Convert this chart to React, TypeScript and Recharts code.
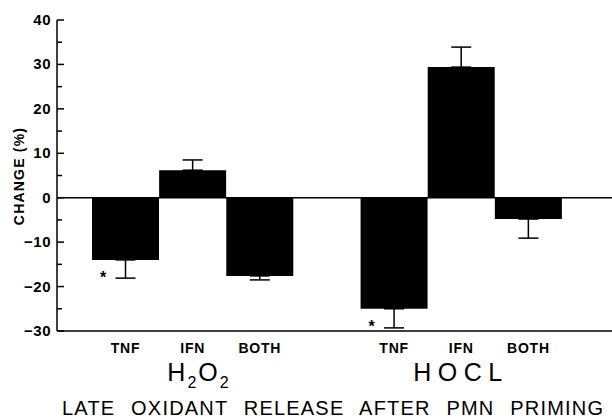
import { BarChart, Bar, XAxis, YAxis, ErrorBar, ReferenceLine, LabelList } from "recharts";

const categories = ["TNF", "IFN", "BOTH", "", "TNF", "IFN", "BOTH"];
const changes = [-14, 6.2, -17.6, null, -25, 29.4, -4.8];
const errorDown = [4.1, 0, 0.9, null, 4.3, 0, 4.3];
const errorUp = [0, 2.3, 0, null, 0, 4.5, 0];
const significant = [true, false, false, false, true, false, false];
const yTicks = [-30, -25, -20, -15, -10, -5, 0, 5, 10, 15, 20, 25, 30, 35, 40];

const data = categories.map((name, i) => ({
  id: i,
  name,
  change: changes[i],
  err: changes[i] === null ? null : [errorDown[i], errorUp[i]],
  star: significant[i] ? "*" : ""
}));

const AXIS_W = 57;
const font = "'Liberation Sans', Arial, sans-serif";

function YTick(props: any) {
  const { y, payload } = props;
  const v = payload.value;
  const major = v % 10 === 0;
  return (
    <g>
      <line x1={AXIS_W} x2={AXIS_W + (major ? 7 : 5)} y1={y} y2={y} stroke="#000" strokeWidth={1.5} />
      {major && (
        <text x={51} y={y} dy={5} textAnchor="end" fontFamily={font} fontWeight={700} fontSize={15} letterSpacing={0.5} fill="#000">
          {v < 0 ? "\u2212" + Math.abs(v) : v}
        </text>
      )}
    </g>
  );
}

function XTick(props: any) {
  const { x, y, payload } = props;
  return (
    <text x={x} y={y} dy={14} textAnchor="middle" fontFamily={font} fontWeight={700} fontSize={14} letterSpacing={0.8} fill="#000">
      {categories[payload.value]}
    </text>
  );
}

function Star(props: any) {
  const { x, y, height, value } = props;
  if (!value) return null;
  const bottom = Math.max(y, y + height);
  return (
    <text x={x + 11} y={bottom + 23} textAnchor="middle" fontFamily={font} fontWeight={700} fontSize={16} fill="#000">
      {value}
    </text>
  );
}

function YLabel() {
  return (
    <text x={24} y={176} transform="rotate(-90 24 176)" textAnchor="middle" fontFamily={font} fontWeight={700} fontSize={14} letterSpacing={1.2} fill="#000">
      CHANGE (%)
    </text>
  );
}

export default function App() {
  return (
    <div style={{ position: "absolute", left: 0, top: 0, width: 612, height: 418, background: "#fff", overflow: "hidden" }}>
      <BarChart
        width={612}
        height={418}
        data={data}
        margin={{ top: 20, right: 0, bottom: 57, left: 0 }}
        barCategoryGap={0}
      >
        <XAxis
          dataKey="id"
          type="category"
          height={30}
          padding={{ left: 35, right: 50 }}
          axisLine={{ stroke: "#000", strokeWidth: 1.5 }}
          tickLine={false}
          tick={<XTick />}
          interval={0}
        />
        <YAxis
          width={AXIS_W}
          domain={[-30, 40]}
          ticks={yTicks}
          interval={0}
          axisLine={{ stroke: "#000", strokeWidth: 1.5 }}
          tickLine={false}
          tick={<YTick />}
          label={<YLabel />}
        />
        <ReferenceLine y={0} stroke="#000" strokeWidth={1.5} />
        <Bar dataKey="change" fill="#000" isAnimationActive={false}>
          <ErrorBar dataKey="err" width={10} stroke="#000" strokeWidth={1.5} />
          <LabelList dataKey="star" content={<Star />} />
        </Bar>
      </BarChart>
      <div style={{ position: "absolute", left: 199, top: 357, transform: "translateX(-50%)", fontFamily: font, fontSize: 25, letterSpacing: 2, lineHeight: "30px", whiteSpace: "nowrap" }}>
        H<sub style={{ fontSize: 16, verticalAlign: "-7px" }}>2</sub>O<sub style={{ fontSize: 16, verticalAlign: "-7px" }}>2</sub>
      </div>
      <div style={{ position: "absolute", left: 461, top: 357, transform: "translateX(-50%)", fontFamily: font, fontSize: 25, letterSpacing: 6.5, lineHeight: "30px", whiteSpace: "nowrap" }}>
        HOCL
      </div>
      <div style={{ position: "absolute", left: 62, top: 396, fontFamily: font, fontSize: 20, letterSpacing: 1.2, wordSpacing: 9, lineHeight: "24px", whiteSpace: "nowrap" }}>
        LATE OXIDANT RELEASE AFTER PMN PRIMING
      </div>
    </div>
  );
}
